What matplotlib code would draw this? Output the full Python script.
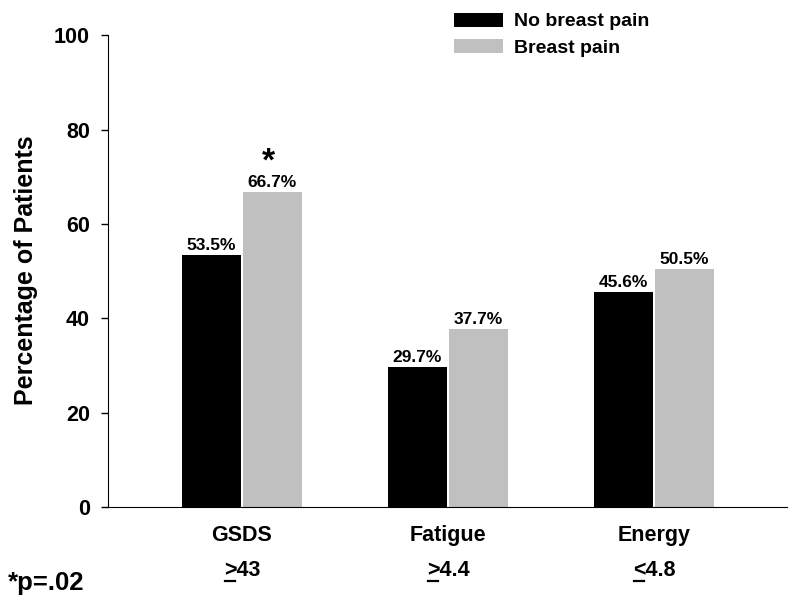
import numpy as np
import matplotlib.pyplot as plt
from matplotlib.lines import Line2D

plt.rcParams['font.family'] = ['Liberation Sans', 'DejaVu Sans']
plt.rcParams['font.weight'] = 'bold'

categories = ['GSDS', 'Fatigue', 'Energy']
threshold_ops = ['>', '>', '<']
threshold_vals = ['43', '4.4', '4.8']
no_pain = [53.5, 29.7, 45.6]
pain = [66.7, 37.7, 50.5]
yticks = [0, 20, 40, 60, 80, 100]

fig = plt.figure(figsize=(8, 6.06), dpi=100)
ax = fig.add_axes([0.135, 0.163, 0.849, 0.779])

x = np.arange(len(categories))
w = 0.286
b1 = ax.bar(x - w / 2 - 0.005, no_pain, w, color='black', label='No breast pain')
b2 = ax.bar(x + w / 2 + 0.005, pain, w, color='#c0c0c0', label='Breast pain')

for bars, vals in [(b1, no_pain), (b2, pain)]:
    for r, v in zip(bars, vals):
        ax.annotate(f'{v}%', (r.get_x() + r.get_width() / 2, v), xytext=(0, 1.5),
                    textcoords='offset points', ha='center', va='bottom',
                    fontsize=12.5, fontweight='bold')

# significance marker
ax.annotate('*', (b2[0].get_x() + b2[0].get_width() / 2, pain[0]), xytext=(-3, 11),
            textcoords='offset points', ha='center', va='bottom',
            fontsize=24, fontweight='bold')

ax.set_xlim(-0.65, 2.646)
ax.set_ylim(0, 100)
ax.set_yticks(yticks)
ax.tick_params(axis='y', labelsize=15.5, length=5, width=1, direction='out', pad=8)
ax.tick_params(axis='x', length=0, labelsize=15.5, pad=13)
ax.set_xticks(x)
ax.set_xticklabels(categories, fontweight='bold')
for lbl in ax.get_yticklabels():
    lbl.set_fontweight('bold')
ax.set_ylabel('Percentage of Patients', fontsize=18, fontweight='bold')
ax.yaxis.set_label_coords(-0.103, 0.502)

ax.spines['top'].set_visible(False)
ax.spines['right'].set_visible(False)

thr_texts = []
for xi, op, val in zip(x, threshold_ops, threshold_vals):
    t = ax.text(xi, -13.5, op + val, ha='center', va='center', fontsize=15.5,
                fontweight='bold', clip_on=False)
    thr_texts.append((t, op))

fig.text(0.01, 0.0264, '*p=.02', fontsize=18.5, fontweight='bold', ha='left',
         va='baseline')

fig.legend(loc='upper left', bbox_to_anchor=(0.5675, 0.979), frameon=False,
           fontsize=14, handlelength=2.5, handleheight=0.72, labelspacing=0.45,
           handletextpad=0.57, borderpad=0, borderaxespad=0)

# underline the comparison sign (>= / <= style)
fig.canvas.draw()
renderer = fig.canvas.get_renderer()
for t, op in thr_texts:
    bb = t.get_window_extent(renderer)
    tmp = fig.text(0, 0, op, fontsize=15.5, fontweight='bold')
    opw = tmp.get_window_extent(renderer).width
    tmp.remove()
    y = bb.y0
    fig.add_artist(Line2D([bb.x0 + 1, bb.x0 + opw - 1], [y, y], transform=None,
                          color='black', lw=1.6))

fig.savefig('out.png', dpi=100)
